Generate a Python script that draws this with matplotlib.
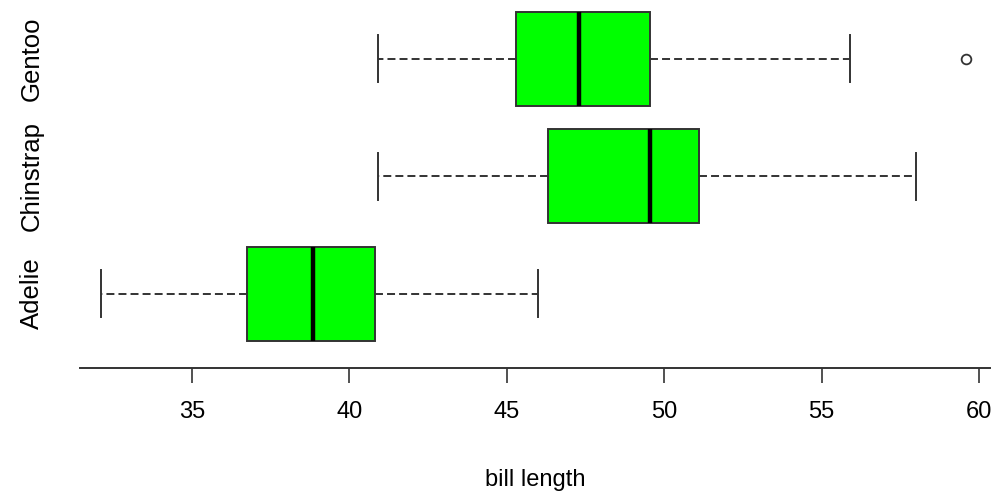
import matplotlib
matplotlib.use("Agg")
import matplotlib.pyplot as plt

plt.rcParams["font.family"] = ["Liberation Sans", "DejaVu Sans"]

# five-number summaries of bill length per species
species = ["Adelie", "Chinstrap", "Gentoo"]
whisker_low = [32.1, 40.9, 40.9]
q1 = [36.75, 46.3, 45.3]
median = [38.85, 49.55, 47.3]
q3 = [40.8, 51.1, 49.55]
whisker_high = [46.0, 58.0, 55.9]
outliers = [[], [], [59.6]]

stats = []
for i, name in enumerate(species):
    stats.append({
        "label": name,
        "whislo": whisker_low[i],
        "q1": q1[i],
        "med": median[i],
        "q3": q3[i],
        "whishi": whisker_high[i],
        "fliers": outliers[i],
    })

fig = plt.figure(figsize=(9.95, 4.93), dpi=100)
ax = fig.add_axes([80 / 995, (493 - 368) / 493, 910 / 995, 368 / 493])

edge = "#333333"
ax.bxp(
    stats,
    positions=[1, 2, 3],
    widths=0.8,
    vert=False,
    patch_artist=True,
    boxprops=dict(facecolor="#00ff00", edgecolor=edge, linewidth=1.4),
    medianprops=dict(color="black", linewidth=3.2, solid_capstyle="butt"),
    whiskerprops=dict(color=edge, linewidth=1.4, linestyle=(0, (4.1, 2.1))),
    capprops=dict(color=edge, linewidth=1.4),
    flierprops=dict(marker="o", markerfacecolor="none", markeredgecolor=edge,
                    markersize=7, markeredgewidth=1.3),
    capwidths=0.4,
)

ax.set_xlim(31.44, 60.35)
ax.set_ylim(0.366, 3.498)
ax.set_xticks([35, 40, 45, 50, 55, 60])
ax.set_yticks([1, 2, 3])
ax.set_yticklabels(species, rotation=90, va="center")

for side in ["top", "left", "right"]:
    ax.spines[side].set_visible(False)
ax.spines["bottom"].set_color(edge)
ax.spines["bottom"].set_linewidth(1.4)

ax.tick_params(axis="x", length=10.8, width=1.2, color=edge, labelsize=17, pad=13)
ax.tick_params(axis="y", length=0, labelsize=18.5, pad=26)
ax.set_xlabel("bill length", fontsize=17, labelpad=33)

fig.savefig("out.png", dpi=100)
